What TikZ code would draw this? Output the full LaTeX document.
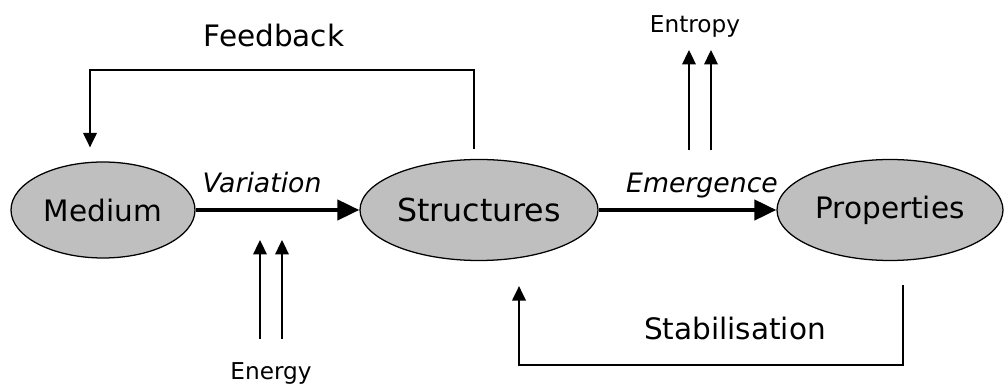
\documentclass[tikz,border=0pt]{standalone}
\usepackage{fontspec}
\setmainfont{DejaVu Sans}
\usetikzlibrary{shapes.geometric,arrows.meta}
\tikzset{> = {Triangle[length=3.6mm,width=3.4mm]}, every picture/.style={line width=1.1pt}}

\begin{document}
\begin{tikzpicture}[x=0.25mm,y=-0.25mm]
\useasboundingbox (0,0) rectangle (1005,388);

\begin{scope}[every node/.style={ellipse,draw,fill=black!25,line width=0.9pt,inner sep=0pt,font=\fontsize{21}{25}\selectfont}]
\node[minimum width=46mm,minimum height=24mm] (med) at (103,210) {Medium};
\node[minimum width=59.5mm,minimum height=25.25mm] (str) at (479,210) {\fontsize{22.5}{26}\selectfont Structures};
\node[minimum width=56.5mm,minimum height=25.25mm] (prop) at (890,210) {Properties};
\end{scope}

\begin{scope}[every node/.style={anchor=base,font=\fontsize{21}{25}\selectfont}]
\node (fb) at (274,47) {Feedback};
\node (stab) at (735,340) {Stabilisation};
\node[font=\fontsize{19}{23}\selectfont\itshape] (var) at (262,193) {Variation};
\node[font=\fontsize{19}{23}\selectfont\itshape] (emg) at (702,193) {Emergence};
\node[font=\fontsize{16.5}{20}\selectfont] (entropy) at (695,33) {Entropy};
\node[font=\fontsize{16.5}{20}\selectfont] (energy) at (271,380) {Energy};
\end{scope}

\begin{scope}[line width=3pt, >={Triangle[length=5.5mm,width=5mm]}, every edge/.style={draw}]
    \path [->] (med) edge (str);
    \path [->] (str) edge (prop);
\end{scope}

% loops back
\draw [->] ([shift={(-5,-10)}]str.north) -- ++(0,-79) -| ([shift={(-13,-14)}]med.north);
\draw [->] ([shift={(13,24)}]prop.south) -- ++(0,80) -| ([shift={(40,25)}]str.south);

% energy in, entropy out
\foreach \dx in {-11,11}
    \draw [->] ([shift={(\dx,-41)}]energy.base) -- ++(0,-99);
\foreach \dx in {-6,16}
    \draw [->] ([shift={(\dx,117)}]entropy.base) -- ++(0,-100);
\end{tikzpicture}
\end{document}
